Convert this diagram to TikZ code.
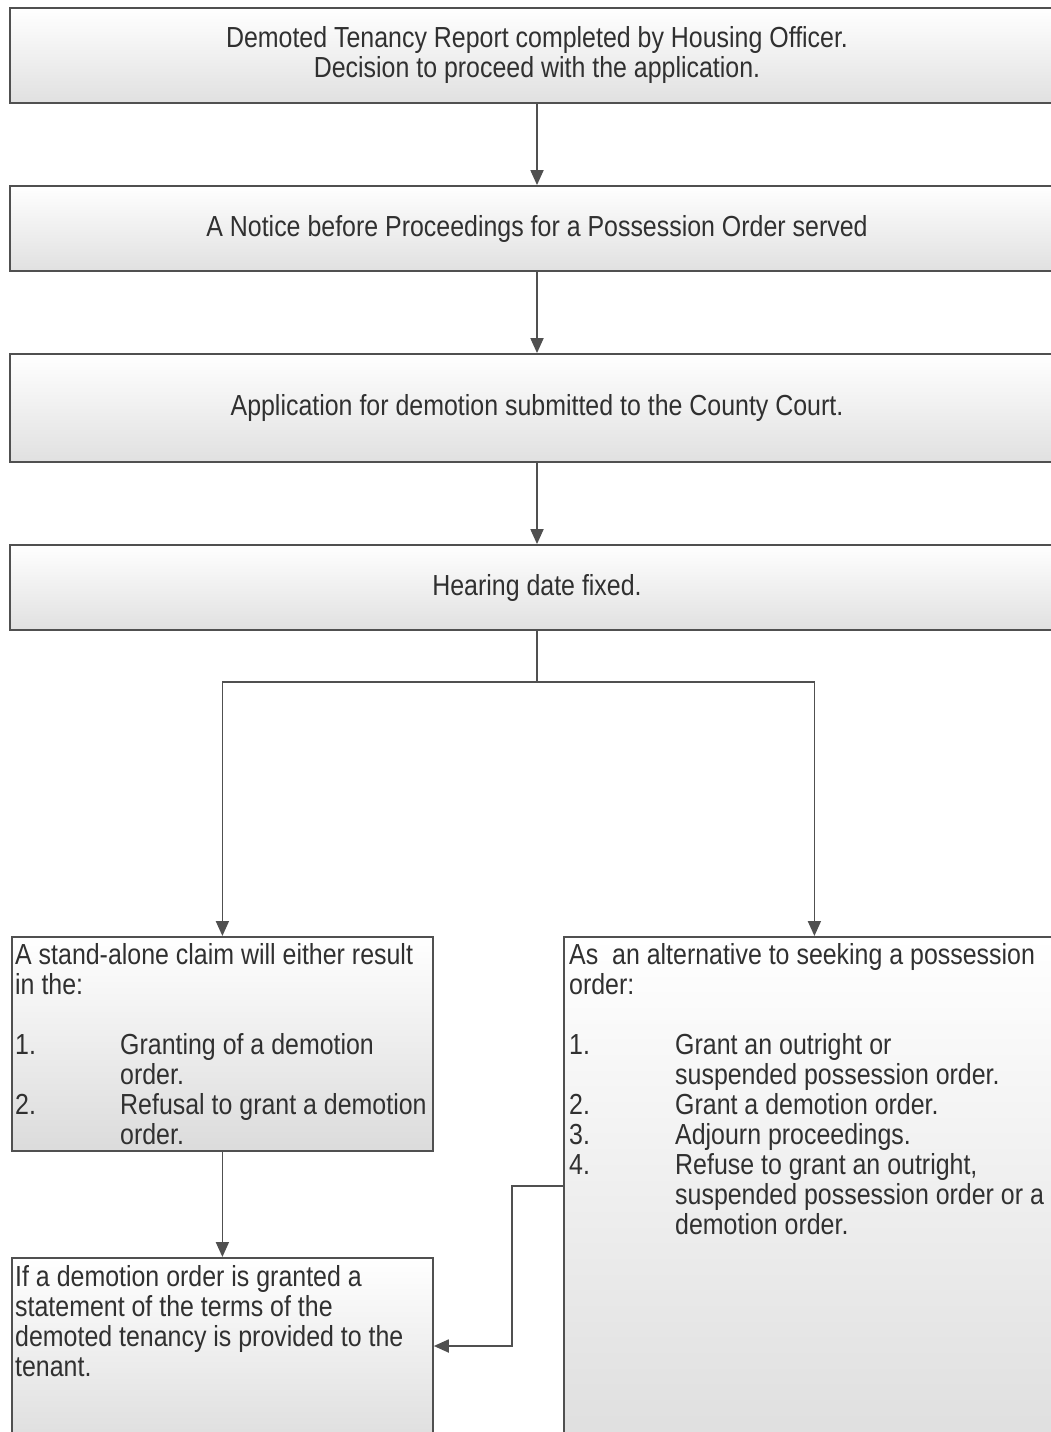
\documentclass[tikz,border=0pt]{standalone}
\usepackage{fontspec}
\setmainfont{Liberation Sans}[FakeStretch=0.86]
\usetikzlibrary{arrows.meta}
\definecolor{edge}{HTML}{505050}
\definecolor{ink}{HTML}{303030}

\begin{document}
\begin{tikzpicture}[x=1pt,y=-1pt, >={Triangle[length=15pt,width=13pt]},
  stage/.style={draw=edge, line width=1.8pt, top color=white, bottom color=black!12,
    minimum width=1054pt, inner sep=0pt, text=ink, align=center,
    font=\fontsize{29pt}{30pt}\selectfont},
  side/.style={draw=edge, line width=1.8pt, top color=white, bottom color=black!14,
    inner sep=0pt, anchor=north west},
  txt/.style={text=ink, font=\fontsize{29pt}{30pt}\selectfont, inner sep=0pt,
    align=flush left, text width=#1, anchor=base west},
  flow/.style={draw=edge, line width=1.8pt}]
  \useasboundingbox (0,0) rectangle (1051,1432);
  \clip (0,0) rectangle (1051,1432);

  \node[stage, minimum height=95pt] (report) at (537,55.5)
    {Demoted Tenancy Report completed by Housing Officer.\\Decision to proceed with the application.};
  \node[stage, minimum height=85pt] (notice) at (537,228.5)
    {A Notice before Proceedings for a Possession Order served};
  \node[stage, minimum height=108pt] (apply) at (537,408)
    {Application for demotion submitted to the County Court.};
  \node[stage, minimum height=85pt] (hearing) at (537,587.5) {Hearing date fixed.};

  % outcomes
  \node[side, minimum width=421pt, minimum height=214pt] (claim) at (11,936) {};
  \node[side, minimum width=501pt, minimum height=560pt] (alt) at (563,936) {};
  \node[side, minimum width=421pt, minimum height=200pt] (outcome) at (11,1257) {};

  \node[txt=480pt] (claimtext) at (15,964)
    {A stand-alone claim will either result\\in the:\\[30pt]
     \makebox[105pt][l]{1.}Granting of a demotion\\\hspace*{105pt}order.\\
     \makebox[105pt][l]{2.}Refusal to grant a demotion\\\hspace*{105pt}order.};
  \node[txt=500pt] (alttext) at (569,964)
    {As\ \ an alternative to seeking a possession\\order:\\[30pt]
     \makebox[106pt][l]{1.}Grant an outright or\\\hspace*{106pt}suspended possession order.\\
     \makebox[106pt][l]{2.}Grant a demotion order.\\
     \makebox[106pt][l]{3.}Adjourn proceedings.\\
     \makebox[106pt][l]{4.}Refuse to grant an outright,\\\hspace*{106pt}suspended possession order or a\\\hspace*{106pt}demotion order.};
  \node[txt=480pt] (outcometext) at (15,1286)
    {If a demotion order is granted a\\statement of the terms of the\\demoted tenancy is provided to the\\tenant.};

  \coordinate (split) at (537,682);
  \coordinate (turnA) at (512,1186);
  \coordinate (turnB) at (512,1346);

  \draw[flow,->] (report) -- (notice);
  \draw[flow,->] (notice) -- (apply);
  \draw[flow,->] (apply) -- (hearing);
  \draw[flow] (hearing) -- (split);
  \draw[flow,->] (split) -| (claim);
  \draw[flow,->] (split) -| (alt);
  \draw[flow,->] (claim) -- (outcome);
  \draw[flow,->] (alt.west |- turnA) -- (turnA) -- (turnB) -- (outcome.east |- turnB);
\end{tikzpicture}
\end{document}
